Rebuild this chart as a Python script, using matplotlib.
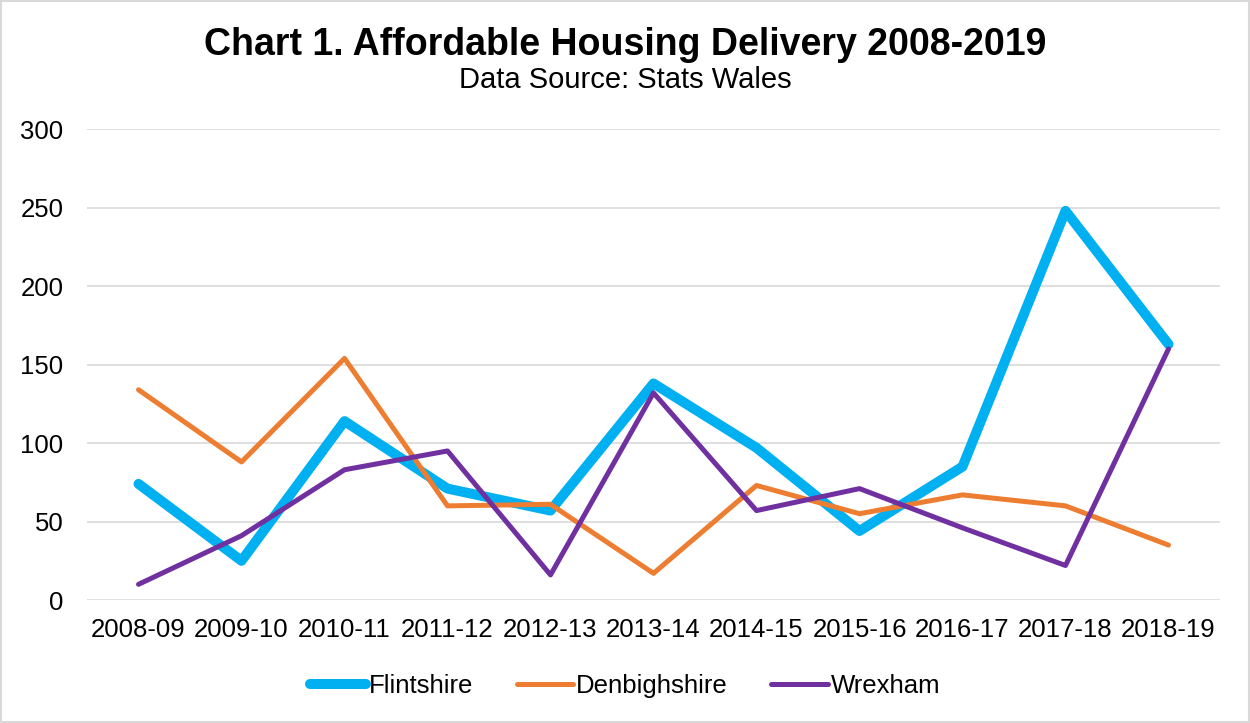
import matplotlib.pyplot as plt
from matplotlib.patches import Rectangle

plt.rcParams['font.family'] = ['Liberation Sans', 'DejaVu Sans']

years = ['2008-09', '2009-10', '2010-11', '2011-12', '2012-13', '2013-14',
         '2014-15', '2015-16', '2016-17', '2017-18', '2018-19']
flintshire = [74, 25, 114, 71, 57, 138, 97, 44, 85, 248, 163]
denbighshire = [134, 88, 154, 60, 61, 17, 73, 55, 67, 60, 35]
wrexham = [10, 41, 83, 95, 16, 132, 57, 71, 46, 22, 160]
yticks = [0, 50, 100, 150, 200, 250, 300]

fig = plt.figure(figsize=(12.5, 7.23), dpi=100)
ax = fig.add_axes([0.0696, 0.1701, 0.9064, 0.6511])

x = range(len(years))
ax.plot(x, flintshire, color='#00B0F0', lw=7.2, solid_capstyle='round',
        solid_joinstyle='round', label='Flintshire', zorder=3)
ax.plot(x, denbighshire, color='#ED7D31', lw=3.6, solid_capstyle='round',
        solid_joinstyle='round', label='Denbighshire', zorder=3)
ax.plot(x, wrexham, color='#7030A0', lw=3.6, solid_capstyle='round',
        solid_joinstyle='round', label='Wrexham', zorder=4)

ax.set_xlim(-0.5, len(years) - 0.5)
ax.set_ylim(0, 300)
ax.set_xticks(list(x))
ax.set_xticklabels(years)
ax.set_yticks(yticks)
ax.tick_params(axis='both', length=0, labelsize=18.5)
ax.tick_params(axis='y', pad=17)
ax.tick_params(axis='x', pad=13)
ax.grid(axis='y', color='#D9D9D9', lw=1.2)
ax.set_axisbelow(True)
for s in ax.spines.values():
    s.set_visible(False)

fig.text(0.5, 1 - 45 / 723, 'Chart 1. Affordable Housing Delivery 2008-2019',
         ha='center', va='center', fontsize=27, fontweight='bold')
fig.text(0.5, 1 - 80 / 723, 'Data Source: Stats Wales',
         ha='center', va='center', fontsize=21)

fig.legend(loc='center', bbox_to_anchor=(0.5, 1 - 686 / 723), ncol=3,
           frameon=False, fontsize=18.5, handlelength=2.2, handletextpad=0.1,
           columnspacing=1.7)

fig.patches.append(Rectangle((0.001, 0.001), 0.998, 0.998, transform=fig.transFigure,
                             fill=False, edgecolor='#D9D9D9', lw=1.5))

fig.savefig('out.png', dpi=100)
